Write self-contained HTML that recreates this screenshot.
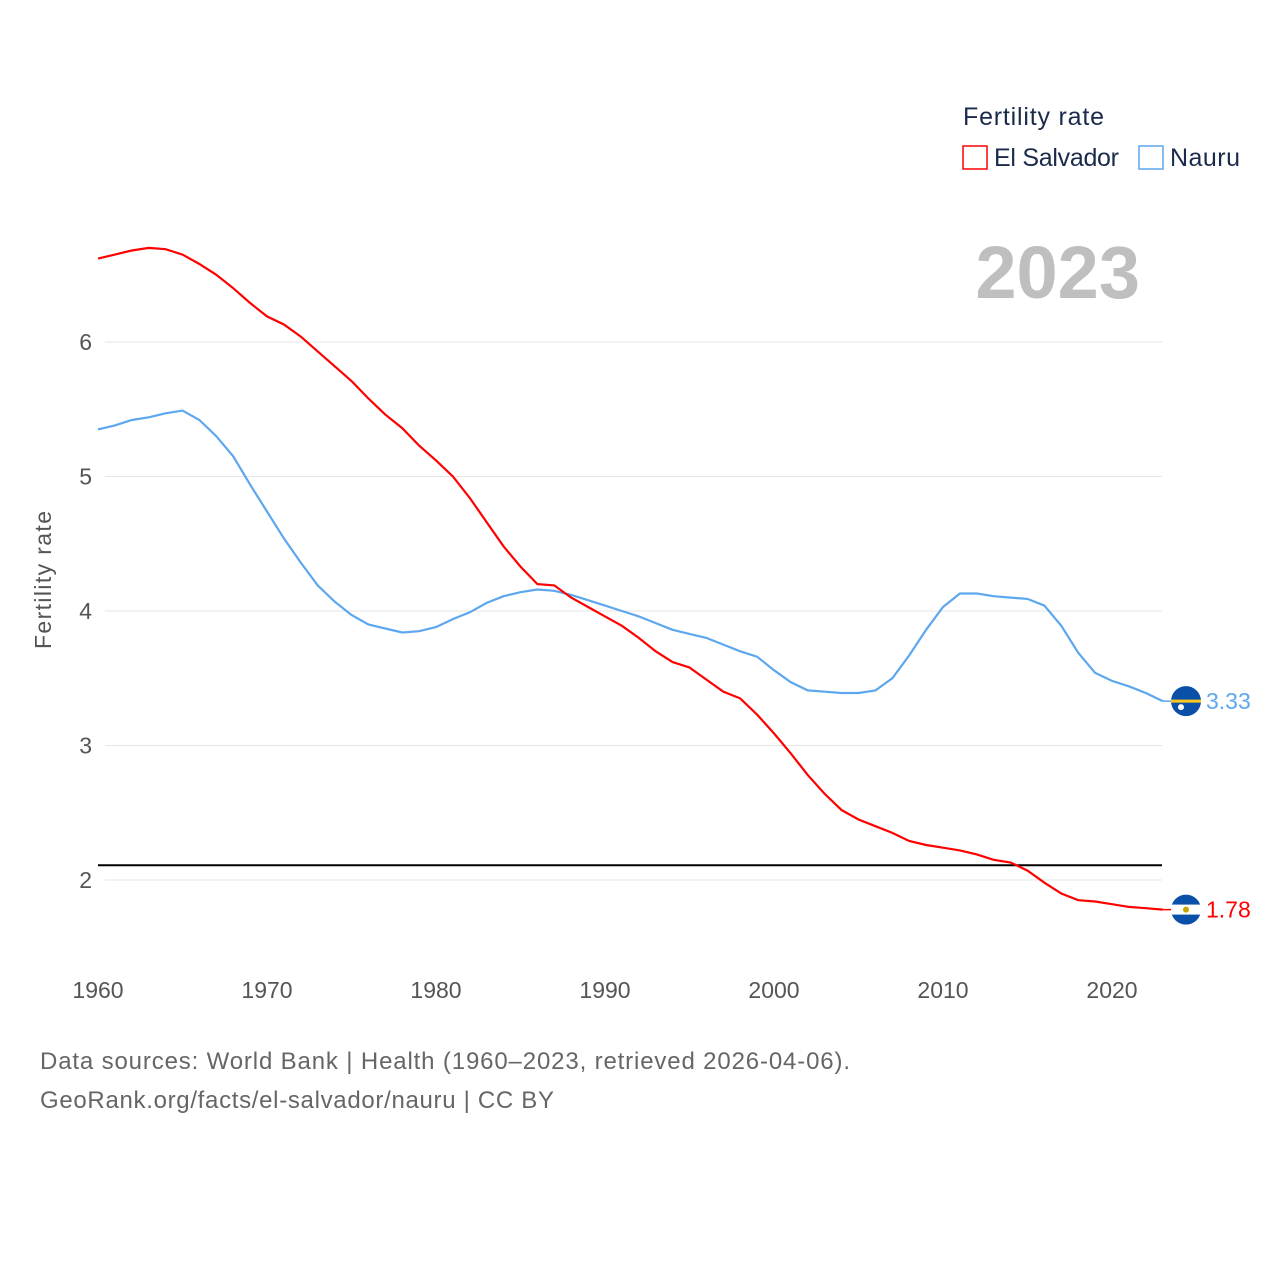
<!DOCTYPE html>
<html><head><meta charset="utf-8"><style>
body{margin:0;background:#fff;font-family:"Liberation Sans",sans-serif}
svg text{font-family:"Liberation Sans",sans-serif}
</style></head><body>
<svg id="chart" width="1280" height="1280">
<text x="963" y="125" font-size="25" fill="#1a2a4a" textLength="141">Fertility rate</text>
<g><rect x="963" y="146" width="24" height="23" fill="none" stroke="#ff0000" stroke-width="1.5"/><text x="994" y="166" font-size="25" fill="#1a2a4a" textLength="125">El Salvador</text></g>
<g><rect x="1139" y="146" width="24" height="23" fill="none" stroke="#5ca7ee" stroke-width="1.5"/><text x="1170" y="166" font-size="25" fill="#1a2a4a" textLength="70">Nauru</text></g>
<text x="1140" y="298" font-size="74" font-weight="bold" fill="#bfbfbf" text-anchor="end">2023</text>
<text transform="translate(51,580) rotate(-90)" font-size="23" fill="#555" text-anchor="middle" textLength="138">Fertility rate</text>
<g id="grid"></g><g id="lines"></g>
<text x="40" y="1069" font-size="24" fill="#666" textLength="810">Data sources: World Bank | Health (1960–2023, retrieved 2026-04-06).</text>
<text x="40" y="1108" font-size="24" fill="#666" textLength="514">GeoRank.org/facts/el-salvador/nauru | CC BY</text>
</svg>
<script>
const years=[];for(let y=1960;y<=2023;y++)years.push(y);
const elSalvador=[6.62,6.65,6.68,6.70,6.69,6.65,6.58,6.50,6.40,6.29,6.19,6.13,6.04,5.93,5.82,5.71,5.58,5.46,5.36,5.23,5.12,5.00,4.84,4.66,4.48,4.33,4.20,4.19,4.10,4.03,3.96,3.89,3.80,3.70,3.62,3.58,3.49,3.40,3.35,3.23,3.09,2.94,2.78,2.64,2.52,2.45,2.40,2.35,2.29,2.26,2.24,2.22,2.19,2.15,2.13,2.07,1.98,1.90,1.85,1.84,1.82,1.80,1.79,1.78];
const nauru=[5.35,5.38,5.42,5.44,5.47,5.49,5.42,5.30,5.15,4.94,4.74,4.54,4.36,4.19,4.07,3.97,3.90,3.87,3.84,3.85,3.88,3.94,3.99,4.06,4.11,4.14,4.16,4.15,4.12,4.08,4.04,4.00,3.96,3.91,3.86,3.83,3.80,3.75,3.70,3.66,3.56,3.47,3.41,3.40,3.39,3.39,3.41,3.50,3.67,3.86,4.03,4.13,4.13,4.11,4.10,4.09,4.04,3.89,3.69,3.54,3.48,3.44,3.39,3.33];
const yTicks=[2,3,4,5,6];
const xTicks=[1960,1970,1980,1990,2000,2010,2020];
const replacementRate=2.11;
const NS="http://www.w3.org/2000/svg";
const X=y=>98+(y-1960)*1014/60;
const Y=v=>880-(v-2)*134.5;
function mk(t,a,p){const e=document.createElementNS(NS,t);for(const k in a)e.setAttribute(k,a[k]);p.appendChild(e);return e;}
const grid=document.getElementById('grid'),lines=document.getElementById('lines');
yTicks.forEach(v=>{
 const l=mk('line',{x1:105,x2:1162,y1:Y(v),y2:Y(v),stroke:'#e6e6e6','stroke-width':1},grid);
 
 
 const t=mk('text',{x:92,y:Y(v)+8,'font-size':23,fill:'#555','text-anchor':'end'},grid);t.textContent=v;
 
 
});
xTicks.forEach(v=>{
 const t=mk('text',{x:X(v),y:998,'font-size':23,fill:'#555','text-anchor':'middle'},grid);t.textContent=v;
 
 
});
const rl=mk('line',{x1:98,x2:1162,y1:Y(replacementRate),y2:Y(replacementRate),stroke:'#000','stroke-width':2},grid);


function series(vals,color,name){
 const d=vals.map((v,i)=>(i?'L':'M')+X(years[i]).toFixed(1)+','+Y(v).toFixed(1)).join(' ');
 const p=mk('path',{d:d,fill:'none',stroke:color,'stroke-width':2.2},lines);
 
 
 const last=vals[vals.length-1],yy=Y(last);
 mk('line',{x1:X(2023),x2:1186,y1:yy,y2:yy,stroke:color,'stroke-width':1.5},lines);
 const c=mk('circle',{cx:1186,cy:yy,r:15,fill:'#0a4fa8'},lines);
 
 
 if(name==='el-salvador'){mk('rect',{x:1171,y:yy-5,width:30,height:10,fill:'#fff'},lines);mk('circle',{cx:1186,cy:yy,r:3,fill:'#c8a400'},lines);}
 else{mk('rect',{x:1171,y:yy-1.5,width:30,height:3,fill:'#ffc61e'},lines);mk('circle',{cx:1181,cy:yy+6,r:3,fill:'#fff'},lines);}
 const t=mk('text',{x:1206,y:yy+8,'font-size':23,fill:color},lines);t.textContent=last.toFixed(2);
 
 
}
series(nauru,'#5ca7ee','nauru');
series(elSalvador,'#ff0000','el-salvador');
</script>
</body></html>
